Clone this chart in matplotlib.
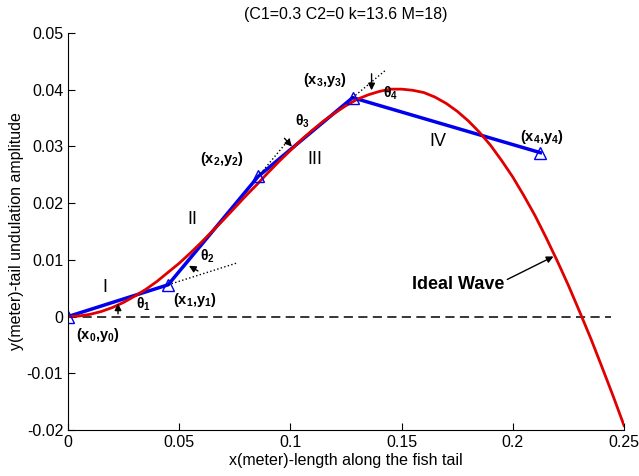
import matplotlib
matplotlib.use("Agg")
import matplotlib.pyplot as plt

plt.rcParams['font.family'] = ['Liberation Sans', 'DejaVu Sans']
plt.rcParams['mathtext.default'] = 'regular'

# ideal wave (red)
x_wave = [0.0, 0.005, 0.01, 0.015, 0.02, 0.025, 0.03, 0.035, 0.04, 0.045, 0.05,
          0.055, 0.06, 0.065, 0.07, 0.075, 0.08, 0.085, 0.09, 0.095, 0.10,
          0.105, 0.11, 0.115, 0.12, 0.125, 0.13, 0.135, 0.14, 0.145, 0.15,
          0.155, 0.16, 0.165, 0.17, 0.175, 0.18, 0.185, 0.19, 0.195, 0.20,
          0.205, 0.21, 0.215, 0.22, 0.225, 0.23, 0.235, 0.24, 0.245, 0.25]
y_wave = [0.0, 0.0001, 0.0004, 0.0009, 0.0016, 0.0025, 0.0036, 0.0048, 0.0062, 0.0078, 0.0094,
          0.0112, 0.0131, 0.0151, 0.0171, 0.0192, 0.0213, 0.0233, 0.0254, 0.0274, 0.0293,
          0.0312, 0.0329, 0.0345, 0.0359, 0.0372, 0.0383, 0.0391, 0.0397, 0.0401, 0.0401,
          0.0399, 0.0395, 0.0387, 0.0376, 0.0362, 0.0345, 0.0325, 0.0302, 0.0275, 0.0246,
          0.0213, 0.0178, 0.0139, 0.0098, 0.0055, 0.0009, -0.0038, -0.0088, -0.0139, -0.0192]

# joint points of the fitted links (blue)
x_nodes = [0.0, 0.045, 0.0855, 0.128, 0.2124]
y_nodes = [0.0, 0.0056, 0.0247, 0.0386, 0.0289]
node_labels = ['(x$_0$,y$_0$)', '(x$_1$,y$_1$)', '(x$_2$,y$_2$)', '(x$_3$,y$_3$)', '(x$_4$,y$_4$)']
seg_labels = ['I', 'II', 'III', 'IV']
theta_labels = ['θ$_1$', 'θ$_2$', 'θ$_3$', 'θ$_4$']

x_ticks = [0, 0.05, 0.1, 0.15, 0.2, 0.25]
x_tick_labels = ['0', '0.05', '0.1', '0.15', '0.2', '0.25']
y_ticks = [-0.02, -0.01, 0, 0.01, 0.02, 0.03, 0.04, 0.05]
y_tick_labels = ['-0.02', '-0.01', '0', '0.01', '0.02', '0.03', '0.04', '0.05']

fig = plt.figure(figsize=(6.39, 4.76), dpi=100)
ax = fig.add_axes([68 / 639, 46 / 476, 556 / 639, 397 / 476])

ax.plot([0, 0.244], [0, 0], color='k', lw=1.1, dashes=(6, 3.5))
ax.plot(x_nodes, y_nodes, color='#0000ee', lw=2.5)
ax.plot(x_wave, y_wave, color='#e00000', lw=2)
ax.plot(x_nodes, y_nodes, ls='none', marker='^', ms=8, mfc='none', mec='#0000ee', mew=1)

# dotted extensions of links I, II, III
ext = [0.69, 0.36, 0.35]
for i in range(3):
    dx = x_nodes[i + 1] - x_nodes[i]
    dy = y_nodes[i + 1] - y_nodes[i]
    ax.plot([x_nodes[i + 1], x_nodes[i + 1] + ext[i] * dx],
            [y_nodes[i + 1], y_nodes[i + 1] + ext[i] * dy], color='k', ls=':', lw=1)

# angle arrows
arrows = [((0.0225, 0.0), (0.0225, 0.0028)),
          ((0.0595, 0.0078), (0.0533, 0.0092)),
          ((0.0965, 0.0318), (0.1015, 0.0296)),
          ((0.1365, 0.0433), (0.1365, 0.0394))]
for tail, head in arrows:
    ax.annotate('', xy=head, xytext=tail,
                arrowprops=dict(arrowstyle='-|>', color='k', lw=1, mutation_scale=10))

label_pos = [(0.0135, -0.0032), (0.0571, 0.0030), (0.0693, 0.0277), (0.1157, 0.0418), (0.2132, 0.0317)]
for (lx, ly), t in zip(label_pos, node_labels):
    ax.text(lx, ly, t, fontsize=10.5, fontweight='bold', ha='center', va='center')

seg_pos = [(0.0167, 0.0051), (0.0558, 0.0171), (0.1110, 0.0277), (0.1665, 0.0309)]
for (lx, ly), t in zip(seg_pos, seg_labels):
    ax.text(lx, ly, t, fontsize=13, ha='center', va='center')

theta_pos = [(0.0340, 0.0022), (0.0625, 0.0106), (0.1055, 0.0345), (0.1450, 0.0394)]
for (lx, ly), t in zip(theta_pos, theta_labels):
    ax.text(lx, ly, t, fontsize=10, fontweight='bold', ha='center', va='center')

ax.annotate('Ideal Wave', xy=(0.2183, 0.0106), xytext=(0.1755, 0.0057),
            fontsize=13, fontweight='bold', ha='center', va='center',
            arrowprops=dict(arrowstyle='-|>', color='k', lw=1, mutation_scale=10,
                            shrinkA=0, shrinkB=0, relpos=(1.0, 0.7)))

ax.set_xlim(0, 0.25)
ax.set_ylim(-0.02, 0.05)
ax.set_xticks(x_ticks)
ax.set_xticklabels(x_tick_labels)
ax.set_yticks(y_ticks)
ax.set_yticklabels(y_tick_labels)
ax.tick_params(direction='in', length=5, labelsize=11.5, colors='k')
ax.spines['top'].set_visible(False)
ax.spines['right'].set_visible(False)
ax.set_xlabel('x(meter)-length along the fish tail', fontsize=11.5, labelpad=2)
ax.set_ylabel('y(meter)-tail undulation amplitude', fontsize=11.5, labelpad=2)
ax.set_title('(C1=0.3 C2=0 k=13.6 M=18)', fontsize=11.5, pad=10)

fig.savefig('out.png', dpi=100)
